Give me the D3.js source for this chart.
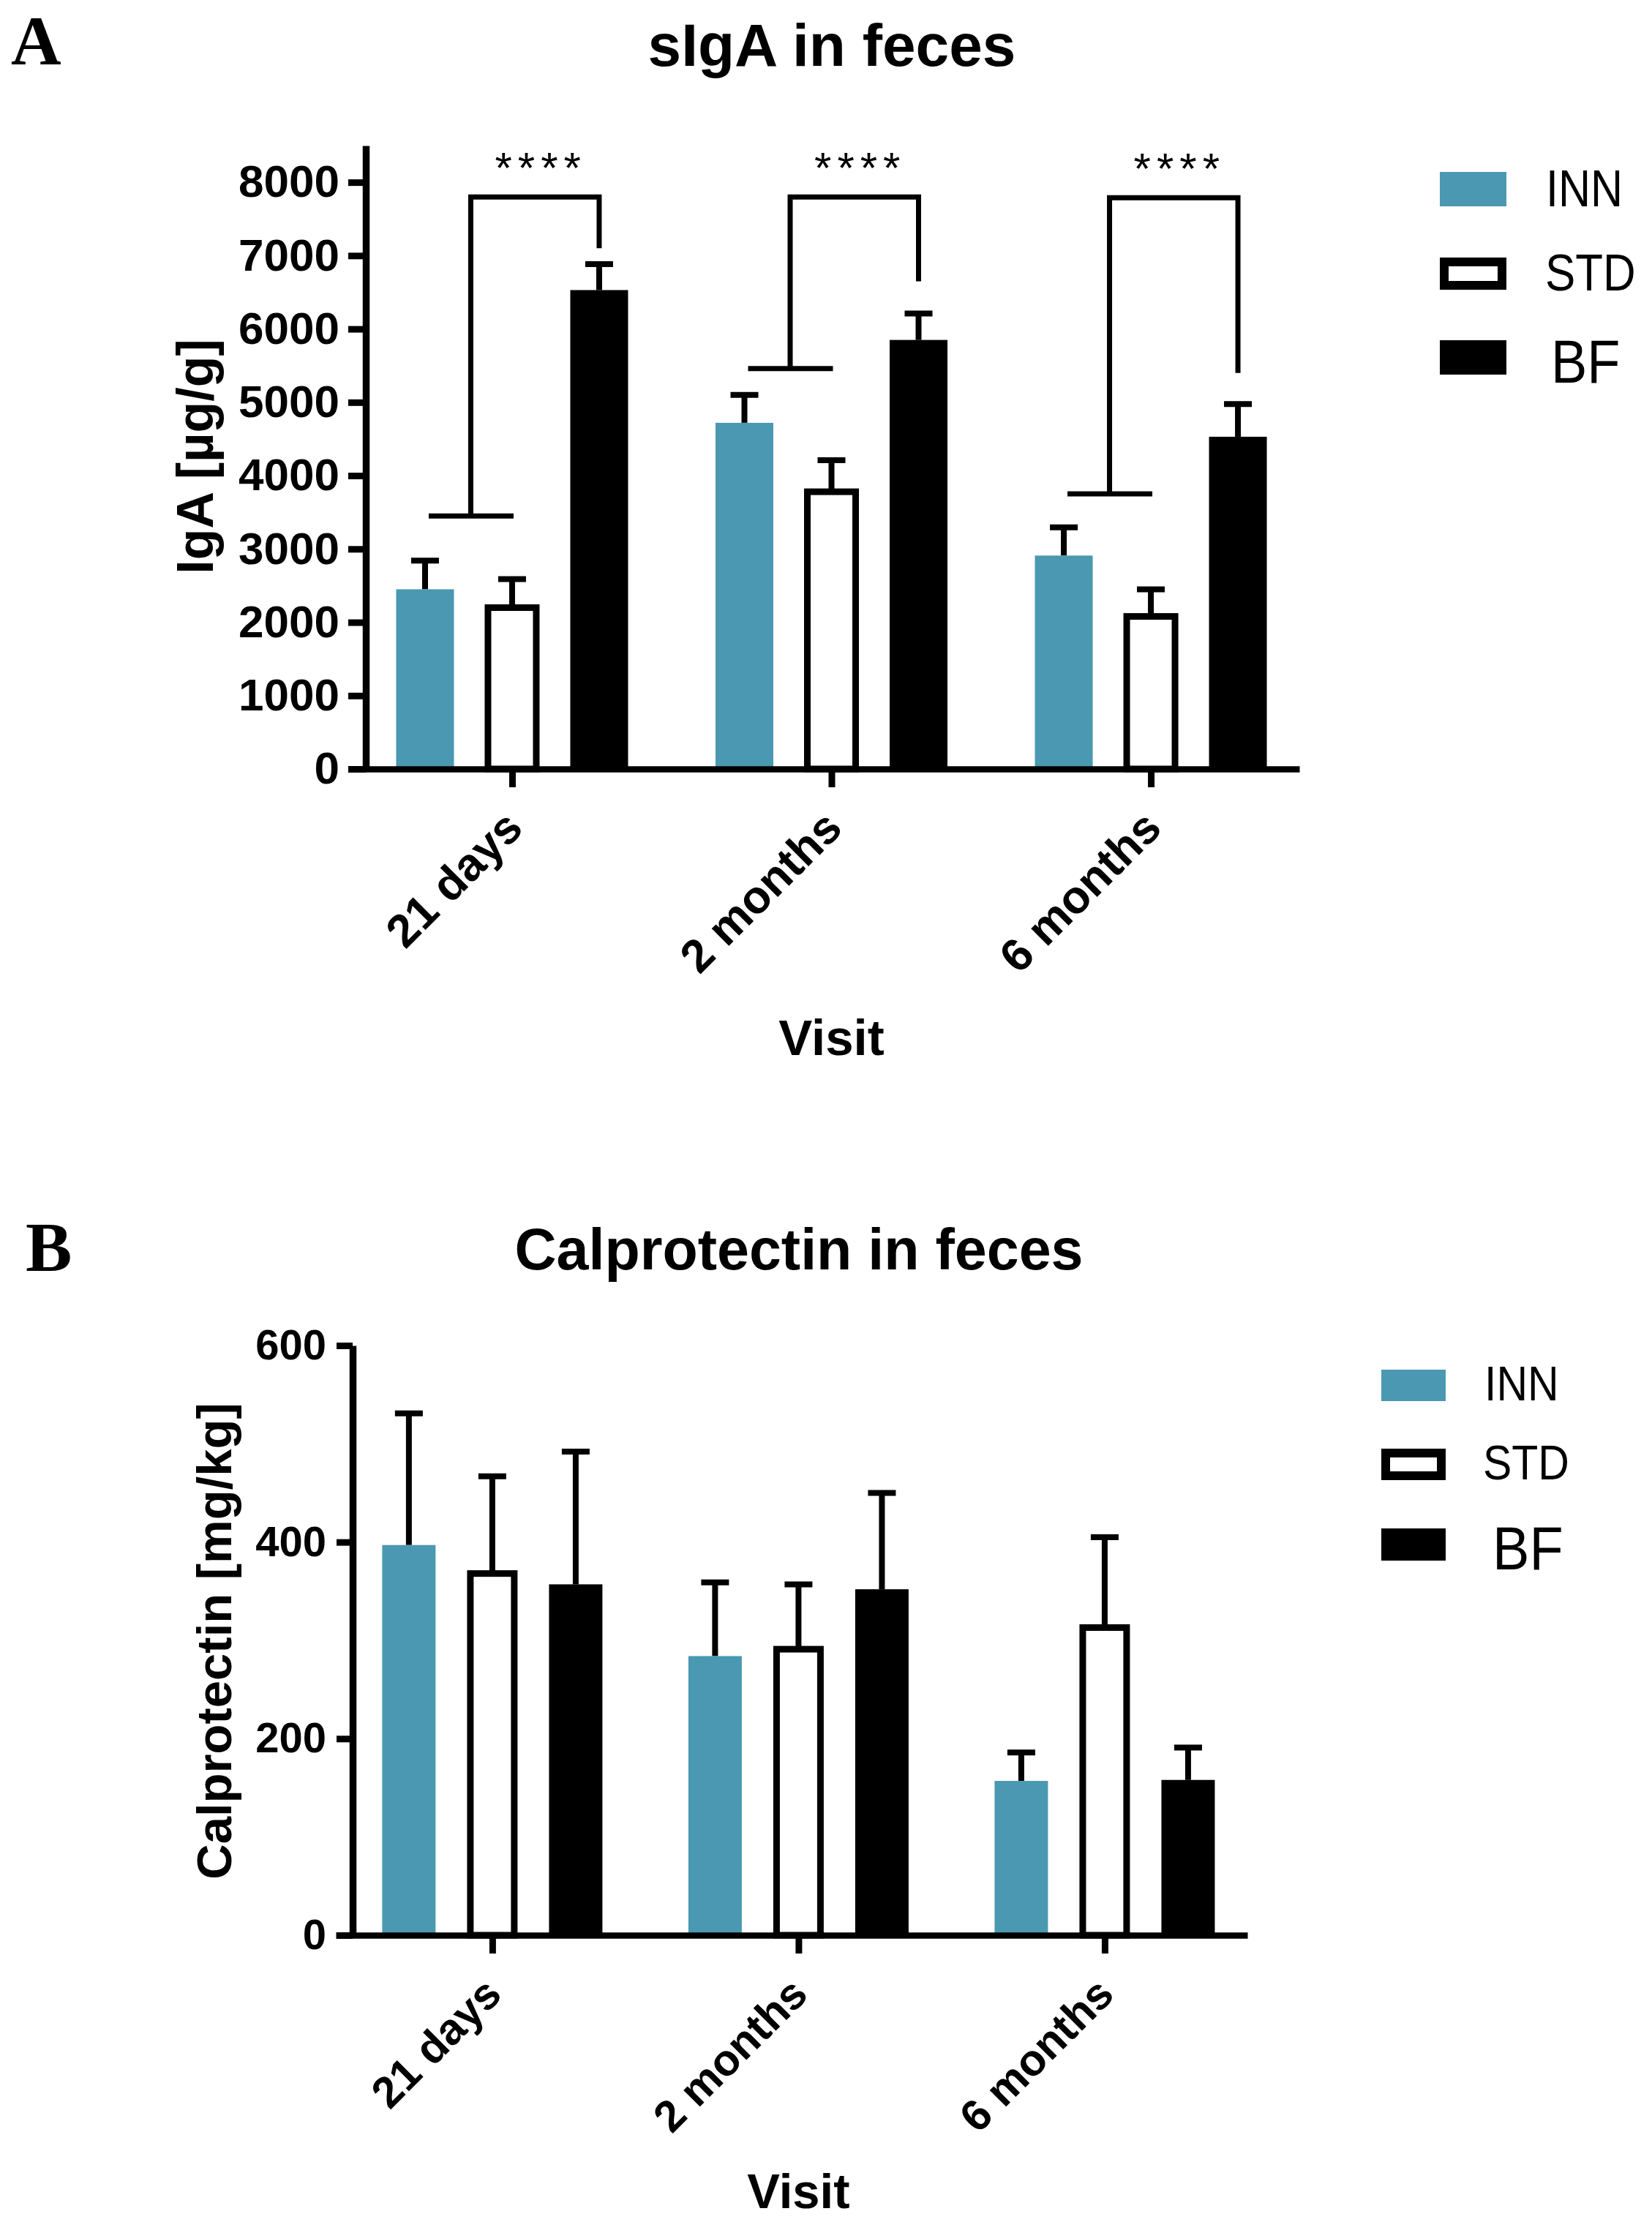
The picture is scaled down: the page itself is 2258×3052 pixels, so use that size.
<!DOCTYPE html>
<html><head><meta charset="utf-8">
<script src="https://cdn.jsdelivr.net/npm/d3@7"></script>
<style>body{margin:0;background:#fff} svg{display:block}</style>
</head><body>
<svg id="chart" width="2258" height="3052"></svg>
<script>
// ---------- data ----------
const categories = ["21 days", "2 months", "6 months"];
const seriesNames = ["INN", "STD", "BF"];

// Panel A: sIgA in feces (µg/g)
const igaINN = [2450, 4720, 2910];
const igaINNErr = [390, 380, 385];
const igaSTD = [2200, 3780, 2080];
const igaSTDErr = [390, 430, 370];
const igaBF = [6530, 5850, 4530];
const igaBFErr = [355, 360, 445];
const igaTicks = [0, 1000, 2000, 3000, 4000, 5000, 6000, 7000, 8000];
// significance brackets (INN+STD vs BF)
const sigLow = [3450, 5460, 3750];
const sigHigh = [7800, 7800, 7790];
const sigEnd = [7100, 6650, 5400];
const sigLabel = ["****", "****", "****"];

// Panel B: Calprotectin in feces (mg/kg)
const calINN = [397, 284, 157];
const calINNErr = [134, 75, 29];
const calSTD = [368, 291, 313];
const calSTDErr = [99, 66, 92];
const calBF = [357, 352, 158];
const calBFErr = [135, 98, 33];
const calTicks = [0, 200, 400, 600];

// ---------- style ----------
const TEAL = "#4a98b1";
const SANS = "'Liberation Sans', Arial, sans-serif";
const SERIF = "'Liberation Serif', 'Times New Roman', serif";

const svg = d3.select("#chart");

function drawPanel(cfg) {
  const g = svg.append("g");
  const y = d3.scaleLinear().domain(cfg.yDomain).range(cfg.yRange);
  const x = d3.scalePoint().domain(categories).range(cfg.xRange)
              .padding(cfg.xPad).align(cfg.xAlign);
  const inner = d3.scaleBand().domain(seriesNames)
              .range([-cfg.groupW / 2, cfg.groupW / 2]).paddingInner(cfg.innerPad);
  const bw = inner.bandwidth();
  const base = y(0);

  const seriesData = [
    {name: "INN", vals: cfg.inn, errs: cfg.innErr},
    {name: "STD", vals: cfg.std, errs: cfg.stdErr},
    {name: "BF",  vals: cfg.bf,  errs: cfg.bfErr}
  ];

  // error bars (upper only)
  seriesData.forEach(s => {
    s.vals.forEach((v, i) => {
      const cx = x(categories[i]) + inner(s.name) + bw / 2;
      const top = y(v + s.errs[i]);
      g.append("line").attr("x1", cx).attr("x2", cx)
        .attr("y1", y(v)).attr("y2", top)
        .attr("stroke", "#000").attr("stroke-width", 8);
      g.append("line").attr("x1", cx - 19).attr("x2", cx + 19)
        .attr("y1", top).attr("y2", top)
        .attr("stroke", "#000").attr("stroke-width", 8);
    });
  });

  // bars
  seriesData.forEach(s => {
    s.vals.forEach((v, i) => {
      const bx = x(categories[i]) + inner(s.name);
      if (s.name === "STD") {
        g.append("rect").attr("x", bx + 6.5).attr("y", y(v))
          .attr("width", bw - 13).attr("height", base - y(v))
          .attr("fill", "#fff").attr("stroke", "#000").attr("stroke-width", 9);
      } else {
        g.append("rect").attr("x", bx).attr("y", y(v))
          .attr("width", bw).attr("height", base - y(v))
          .attr("fill", s.name === "INN" ? TEAL : "#000");
      }
    });
  });

  // y axis
  const ya = g.append("g").attr("transform", `translate(${cfg.yAxisX},0)`)
    .call(d3.axisLeft(y).tickValues(cfg.ticks).tickSize(cfg.tickLen).tickSizeOuter(0)
      .tickPadding(cfg.tickPad).tickFormat(d3.format("d")));
  ya.select(".domain").attr("stroke-width", 9.5);
  ya.selectAll(".tick line").attr("stroke-width", 9);
  ya.selectAll(".tick text").attr("font-family", SANS).attr("font-weight", "bold")
    .attr("font-size", cfg.tickSize).attr("fill", "#000");

  // x axis
  const xa = g.append("g").attr("transform", `translate(0,${base})`)
    .call(d3.axisBottom(x).tickSize(25).tickSizeOuter(0));
  xa.select(".domain").attr("stroke-width", 8.5);
  xa.selectAll(".tick line").attr("stroke-width", 9);
  xa.selectAll(".tick text").attr("font-family", SANS).attr("font-weight", "bold")
    .attr("font-size", cfg.xLabSize).attr("fill", "#000")
    .attr("x", 0).attr("y", 0).attr("dy", 0).attr("text-anchor", "end")
    .attr("transform", `translate(${cfg.xLabDx},${cfg.xLabDy}) rotate(-45)`);

  // titles
  g.append("text").attr("x", cfg.titleX).attr("y", cfg.titleY).attr("text-anchor", "middle")
    .attr("font-family", SANS).attr("font-weight", "bold").attr("font-size", cfg.titleSize)
    .text(cfg.title);
  g.append("text").attr("x", cfg.letterX).attr("y", cfg.letterY)
    .attr("font-family", SERIF).attr("font-weight", "bold").attr("font-size", 95)
    .text(cfg.letter);
  g.append("text").attr("transform", `translate(${cfg.yTitleX},${cfg.yTitleY}) rotate(-90)`)
    .attr("text-anchor", "middle").attr("font-family", SANS).attr("font-weight", "bold")
    .attr("font-size", cfg.yTitleSize).text(cfg.yTitle);
  g.append("text").attr("x", x("2 months")).attr("y", cfg.visitY).attr("text-anchor", "middle")
    .attr("font-family", SANS).attr("font-weight", "bold").attr("font-size", cfg.visitSize)
    .text("Visit");

  // legend
  const L = cfg.legend;
  seriesNames.forEach((n, k) => {
    const ry = L.rectY[k];
    if (n === "STD") {
      g.append("rect").attr("x", L.rectX + 6).attr("y", ry + 6)
        .attr("width", L.rectW - 12).attr("height", L.rectH[k] - 12)
        .attr("fill", "#fff").attr("stroke", "#000").attr("stroke-width", 12);
    } else {
      g.append("rect").attr("x", L.rectX).attr("y", ry)
        .attr("width", L.rectW).attr("height", L.rectH[k])
        .attr("fill", n === "INN" ? TEAL : "#000");
    }
    g.append("text").attr("transform", `translate(${L.textX[k]},${L.textY[k]}) scale(${L.squeeze[k]},1)`)
      .attr("font-family", SANS).attr("font-size", L.textSize[k]).text(n);
  });

  // significance brackets
  if (cfg.sig) {
    categories.forEach((c, i) => {
      const cInn = x(c) + inner("INN") + bw / 2;
      const cStd = x(c) + inner("STD") + bw / 2;
      const cBf = x(c) + inner("BF") + bw / 2;
      const mid = (cInn + cStd) / 2 + 3;
      const path = d3.path();
      path.moveTo(cInn + 5, y(cfg.sig.low[i])); path.lineTo(cStd + 2, y(cfg.sig.low[i]));
      path.moveTo(mid, y(cfg.sig.low[i])); path.lineTo(mid, y(cfg.sig.high[i]));
      path.lineTo(cBf, y(cfg.sig.high[i])); path.lineTo(cBf, y(cfg.sig.end[i]));
      g.append("path").attr("d", path.toString()).attr("fill", "none")
        .attr("stroke", "#000").attr("stroke-width", 7);
      g.append("text").attr("x", (mid + cBf) / 2 + 8).attr("y", y(cfg.sig.high[i]) - 19)
        .attr("text-anchor", "middle").attr("font-family", SANS).attr("font-size", 60)
        .attr("letter-spacing", 8).text(cfg.sig.label[i]);
    });
  }
}

drawPanel({
  yDomain: [0, 8500], yRange: [1051, 199], ticks: igaTicks,
  xRange: [476, 1776], xPad: 0.489, xAlign: 0.5246,
  groupW: 317, innerPad: 0.336, yAxisX: 500,
  tickLen: 24, tickPad: 12, tickSize: 62, xLabSize: 63, xLabDx: 17, xLabDy: 84,
  inn: igaINN, innErr: igaINNErr, std: igaSTD, stdErr: igaSTDErr, bf: igaBF, bfErr: igaBFErr,
  title: "sIgA in feces", titleX: 1137, titleY: 90, titleSize: 82,
  letter: "A", letterX: 15, letterY: 88,
  yTitle: "IgA [\u00b5g/g]", yTitleX: 291, yTitleY: 624, yTitleSize: 70,
  visitY: 1442, visitSize: 69,
  legend: {rectX: 1968, rectW: 91, rectH: [47, 44, 47], rectY: [235, 352, 465],
           textX: [2113, 2112, 2120], textY: [282, 397, 523], textSize: [71, 71, 84],
           squeeze: [0.86, 0.87, 0.88]},
  sig: {low: sigLow, high: sigHigh, end: sigEnd, label: sigLabel}
});

drawPanel({
  yDomain: [0, 600], yRange: [2645, 1839], ticks: calTicks,
  xRange: [459, 1705], xPad: 0.4886, xAlign: 0.523,
  groupW: 301, innerPad: 0.36, yAxisX: 482,
  tickLen: 22, tickPad: 14, tickSize: 58, xLabSize: 60, xLabDx: 15, xLabDy: 84,
  inn: calINN, innErr: calINNErr, std: calSTD, stdErr: calSTDErr, bf: calBF, bfErr: calBFErr,
  title: "Calprotectin in feces", titleX: 1092, titleY: 1735, titleSize: 79,
  letter: "B", letterX: 35, letterY: 1737,
  yTitle: "Calprotectin [mg/kg]", yTitleX: 316, yTitleY: 2243, yTitleSize: 67,
  visitY: 3018, visitSize: 67,
  legend: {rectX: 1888, rectW: 88, rectH: [43, 43, 44], rectY: [1872, 1980, 2089],
           textX: [2029, 2027, 2040], textY: [1914, 2022, 2145], textSize: [67, 67, 84],
           squeeze: [0.88, 0.88, 0.9]},
  sig: null
});
</script>
</body></html>
